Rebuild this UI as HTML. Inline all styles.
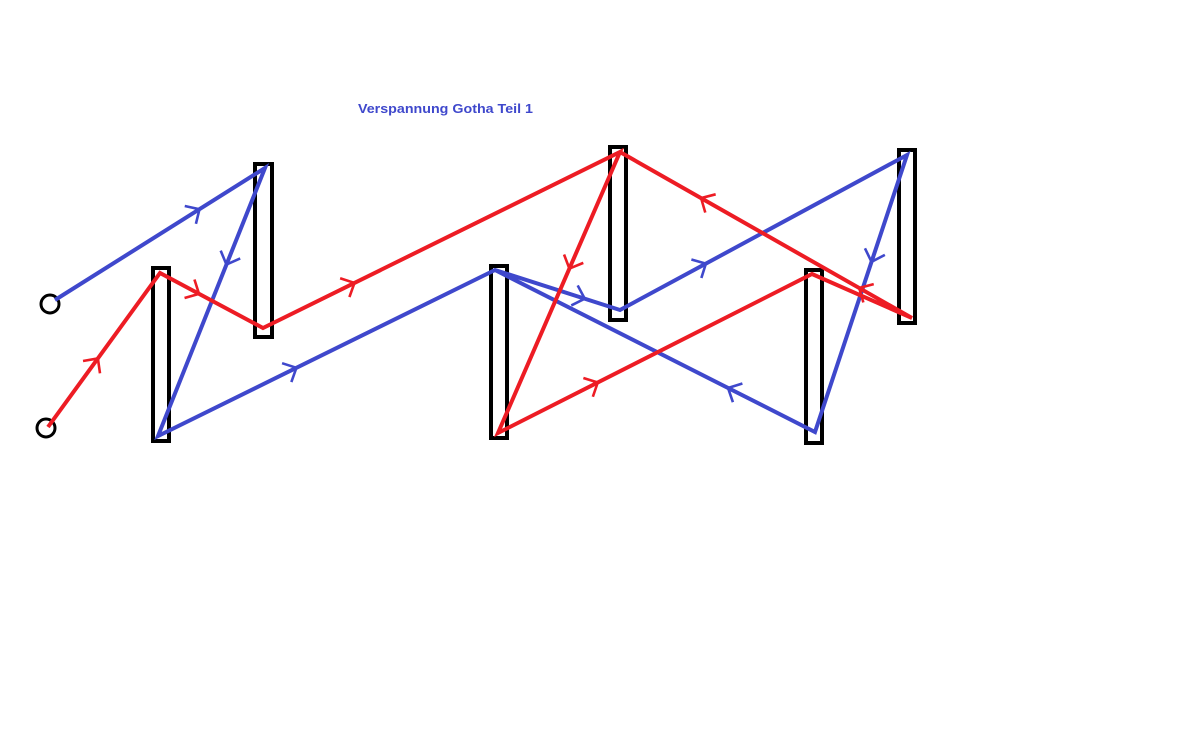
<!DOCTYPE html>
<html><head><meta charset="utf-8"><style>
html,body{margin:0;padding:0;background:#fff;}
svg{display:block}
</style></head><body>
<svg id="s" width="1183" height="730" xmlns="http://www.w3.org/2000/svg">
<text x="358" y="113" font-family="Liberation Sans, sans-serif" font-size="13" font-weight="bold" fill="#3f48cc" textLength="175" lengthAdjust="spacingAndGlyphs">Verspannung Gotha Teil 1</text>
<g fill="none" stroke="#000" stroke-width="4">
<rect x="153" y="268" width="16" height="173"/>
<rect x="255" y="164" width="17" height="173"/>
<rect x="491" y="266" width="16" height="172"/>
<rect x="610" y="147" width="16" height="173"/>
<rect x="806" y="270" width="16" height="173"/>
<rect x="899" y="150" width="16" height="173"/>
<circle cx="50" cy="304" r="9" stroke-width="3"/>
<circle cx="46" cy="428" r="9" stroke-width="3"/>
</g>
<g id="lines"></g>
</svg>
<script>
var B="#3f48cc",R="#ed1c24",ns="http://www.w3.org/2000/svg",g=document.getElementById("lines");
function el(n,a){var e=document.createElementNS(ns,n);for(var k in a)e.setAttribute(k,a[k]);g.appendChild(e);}
function path(pts,c,arrows){
 el("polyline",{points:pts.map(function(p){return p.join(",")}).join(" "),fill:"none",stroke:c,"stroke-width":4,"stroke-linejoin":"miter"});
 arrows.forEach(function(a){
  var best=null,bd=1e9;
  for(var i=0;i<pts.length-1;i++){var p=pts[i],q=pts[i+1],dx=q[0]-p[0],dy=q[1]-p[1],L=dx*dx+dy*dy,t=((a[0]-p[0])*dx+(a[1]-p[1])*dy)/L;t=Math.max(0,Math.min(1,t));var x=p[0]+t*dx,y=p[1]+t*dy,d=(x-a[0])*(x-a[0])+(y-a[1])*(y-a[1]);if(d<bd){bd=d;best=[x,y,dx,dy];}}
  var l=Math.hypot(best[2],best[3]),ux=best[2]/l,uy=best[3]/l,s=15;
  var x=best[0],y=best[1];
  var ax=x-s*(ux*0.72-uy*0.7),ay=y-s*(uy*0.72+ux*0.7),bx=x-s*(ux*0.72+uy*0.7),by=y-s*(uy*0.72-ux*0.7);
  el("polyline",{points:ax+","+ay+" "+x+","+y+" "+bx+","+by,fill:"none",stroke:c,"stroke-width":2.6});
 });
}
path([[55,300],[265,168],[158,436],[495,270],[620,310],[907,155],[815,432],[495,270]],B,
 [[200,210],[230,266],[296,367],[585,298],[705,262],[872,262],[728,388]]);
path([[48,427],[160,273],[263,328],[620,152],[498,433],[812,274],[912,318],[620,152]],R,
 [[100,360],[200,292],[355,284],[568,268],[598,383],[858,290],[700,200]]);
</script>
</body></html>
